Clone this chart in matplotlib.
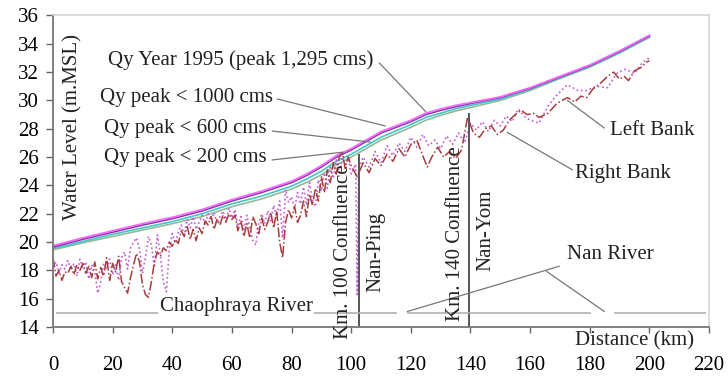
import numpy as np
import matplotlib
matplotlib.use("Agg")
import matplotlib.pyplot as plt

plt.rcParams["font.family"] = ["Liberation Serif", "DejaVu Serif"]

# Water surface profiles (km, m.MSL)
ws_km = [0, 10, 20, 30, 40, 50, 60, 70, 80, 85, 90, 95, 100, 105, 110, 115,
         120, 125, 130, 135, 140, 150, 160, 170, 180, 190, 200]
q1995 = [19.75, 20.3, 20.8, 21.3, 21.75, 22.3, 23.0, 23.6, 24.3, 24.8, 25.4, 26.1,
         26.6, 27.2, 27.8, 28.2, 28.6, 29.1, 29.4, 29.65, 29.85, 30.25, 30.9, 31.7,
         32.5, 33.5, 34.6]
q1000 = [19.65, 20.2, 20.7, 21.2, 21.65, 22.2, 22.9, 23.5, 24.2, 24.7, 25.3, 26.0,
         26.5, 27.1, 27.7, 28.1, 28.5, 29.0, 29.3, 29.55, 29.78, 30.2, 30.85, 31.65,
         32.45, 33.45, 34.55]
q600 = [19.55, 20.05, 20.55, 21.0, 21.45, 22.0, 22.7, 23.25, 23.95, 24.45, 25.0, 25.7,
        26.2, 26.8, 27.4, 27.85, 28.3, 28.8, 29.1, 29.4, 29.65, 30.1, 30.8, 31.6,
        32.4, 33.4, 34.5]
q200 = [19.45, 19.95, 20.4, 20.85, 21.3, 21.8, 22.5, 23.05, 23.75, 24.2, 24.75, 25.45,
        26.0, 26.6, 27.2, 27.65, 28.1, 28.6, 28.95, 29.25, 29.5, 30.0, 30.7, 31.55,
        32.35, 33.35, 34.45]

# Right bank
rb_km = list(range(0, 101)) + [102, 104, 106, 108, 110, 112, 114, 116, 118, 120, 122,
                               124, 125.5, 127, 129, 131, 133, 135, 137, 139, 141, 143,
                               145, 147, 149, 151, 153, 155, 157, 159, 161, 163, 166,
                               169, 172.5, 175, 177, 179, 181, 183.5, 186, 188, 190,
                               191.5, 193, 195, 197, 199, 200]
rb_lvl = [18.9, 17.6, 18.0, 17.3, 17.9, 17.8, 18.3, 17.7, 18.4, 18.0,
          18.5, 17.8, 18.3, 17.5, 18.6, 17.4, 18.2, 17.6, 18.9, 17.3,
          18.5, 17.9, 19.0, 17.2, 16.8, 16.4, 17.5, 18.4, 19.2, 18.6,
          17.0, 16.3, 16.1, 17.2, 18.6, 19.3, 19.0, 19.6, 19.4, 20.0,
          19.7, 20.2, 19.9, 20.8, 20.4, 21.1, 20.2, 20.9, 20.1, 21.0,
          20.6, 21.5, 21.2, 21.8, 20.9, 21.6, 21.2, 21.9, 21.4, 22.0,
          21.6, 21.9, 20.8, 21.5, 20.4, 21.3, 20.3, 21.8, 21.3, 20.6,
          21.7, 20.9, 21.4, 22.1, 21.0, 22.2, 20.0, 18.9, 21.4, 22.3,
          21.7, 22.5, 21.4, 21.9, 22.9, 21.8, 23.4, 22.6, 23.8, 22.9,
          24.6, 23.5, 25.1, 24.2, 25.6, 24.8, 26.0, 26.3, 25.2, 26.0,
          25.4,
          24.6, 25.6, 24.9, 25.9, 25.4, 26.2, 25.7, 26.6, 26.0, 26.9, 27.2,
          26.1, 25.3, 26.0, 26.7, 26.0, 26.4, 25.9, 26.5, 28.8, 27.7, 27.4,
          28.0, 28.2, 27.6, 27.9, 28.6, 29.0, 29.3, 29.0, 29.1, 28.8, 29.1,
          29.8, 30.2, 29.9, 30.3, 30.2, 30.8, 31.2, 31.7, 32.0, 31.5,
          31.7, 31.4, 32.1, 32.3, 32.7, 32.8]

# Left bank
lb_km = list(range(0, 101)) + [101.5, 102, 102.5, 104, 106, 108, 110, 112, 114, 116,
                               118, 120, 122, 124, 126, 128, 130, 132, 134, 136, 138,
                               140, 142, 144, 146, 148, 150, 152, 154, 156, 158, 160,
                               163, 166, 169, 172.5, 176, 179, 182, 186, 189, 192,
                               195, 197, 199, 200]
lb_lvl = [18.2, 18.6, 17.8, 18.4, 18.1, 18.7, 18.0, 18.5, 17.6, 18.8,
          18.2, 18.6, 17.4, 18.4, 17.9, 16.4, 17.2, 18.5, 18.1, 18.8,
          17.7, 18.4, 17.3, 18.9, 19.3, 18.1, 19.6, 20.0, 20.3, 19.5,
          17.8, 18.9, 20.4, 19.8, 18.2, 20.5, 19.1, 17.2, 16.5, 19.4,
          20.6, 19.9, 20.7, 21.2, 20.5, 21.6, 21.0, 21.8, 20.9, 21.4,
          21.9, 21.2, 22.0, 21.5, 22.1, 21.3, 21.8, 22.2, 21.6, 22.4,
          21.7, 22.3, 21.1, 21.8, 20.9, 21.9, 21.0, 20.1, 19.8, 21.4,
          22.0, 21.3, 22.2, 21.5, 22.6, 21.8, 22.9, 20.3, 23.7, 22.8,
          23.2, 22.4, 23.5, 22.7, 23.9, 22.6, 24.2, 23.0, 22.5, 24.4,
          23.6, 24.9, 23.8, 25.3, 24.5, 25.8, 24.9, 26.0, 25.5, 25.9,
          24.8,
          25.5, 16.3, 25.2, 26.0, 25.3, 26.4, 25.6, 26.8, 26.1, 27.0,
          26.4, 27.4, 26.7, 27.6, 26.8, 27.2, 26.6, 27.5, 26.9, 27.7, 27.0,
          28.4, 27.9, 28.5, 27.8, 28.6, 28.2, 28.9, 28.5, 29.4, 28.9, 28.6,
          28.4, 29.6, 30.4, 31.1, 30.7, 30.7, 31.0, 30.9, 31.9, 32.2,
          31.9, 32.5, 32.9, 33.0]

# Confluence markers
conf_km = [102.5, 139.5]
conf_top = [26.2, 29.1]

# Base line (Chaophraya / Nan river) segments
base_level = 15.0
base_start = [1, 118.8, 188]
base_end = [115.5, 180.5, 219]

fig = plt.figure(figsize=(7.28, 3.76), dpi=100)
ax = fig.add_axes([0.0728, 0.130, 0.9012, 0.829])

ax.plot(ws_km, q200, color="#98b898", lw=1.2)
ax.plot(ws_km, q600, color="#40c8c8", lw=1.2)
ax.plot(ws_km, q1000, color="#7a3aa8", lw=1.2)
ax.plot(ws_km, q1995, color="#ff66ff", lw=1.3)

ax.plot(lb_km, lb_lvl, color="#c45ad8", lw=1.2, ls=":")
ax.plot(rb_km, rb_lvl, color="#a83c3c", lw=1.1, ls="-.")

ax.vlines(conf_km, 14, conf_top, color="#555555", lw=1.4)
ax.hlines([base_level] * len(base_start), base_start, base_end, color="#b0b0b0", lw=1.2)

fs = 15
tc = "#222222"
lc = "#777777"

ax.set_xlim(0, 220)
ax.set_ylim(14, 36)
ax.set_xticks(np.arange(0, 221, 20))
ax.set_yticks(np.arange(14, 37, 2))
ax.tick_params(axis="y", direction="out", length=5, width=1, color="#666666",
               pad=5, labelsize=fs)
ax.tick_params(axis="x", direction="out", length=4.5, width=1, color="#666666",
               pad=16.5, labelsize=fs)
for s in ["left", "bottom"]:
    ax.spines[s].set_color("#777777")
    ax.spines[s].set_linewidth(1.3)
for s in ["top", "right"]:
    ax.spines[s].set_color("#d6d6d6")
    ax.spines[s].set_linewidth(1.2)

ax.text(6.7, 28.1, "Water Level (m.MSL)", rotation=90, ha="center", va="center",
        fontsize=fs, color=tc)
ax.text(195, 13.0, "Distance (km)", ha="center", va="center", fontsize=fs,
        color=tc, clip_on=False)

# labels with leader lines: (text, text x, text y, line start, line end)
labels = [
    ("Qy Year 1995 (peak 1,295 cms)", 63.1, 32.85, (109.4, 32.65), (125.0, 29.2)),
    ("Qy peak < 1000 cms", 44.6, 30.24, (75.2, 30.1), (111.4, 28.2)),
    ("Qy peak < 600 cms", 44.3, 28.05, (73.5, 27.84), (106.4, 27.06)),
    ("Qy peak < 200 cms", 44.3, 26.0, (73.5, 25.8), (97.3, 26.35)),
    ("Left Bank", 201.0, 27.9, (184.9, 28.05), (172.5, 30.0)),
    ("Right Bank", 191.0, 24.87, (174.2, 25.1), (152.3, 27.75)),
    ("Nan River", 187.0, 19.15, (169.8, 18.3), (118.8, 15.1)),
]
for txt, tx, ty, p0, p1 in labels:
    ax.text(tx, ty, txt, ha="center", va="center", fontsize=fs, color=tc)
    ax.annotate("", xy=p1, xytext=p0,
                arrowprops=dict(arrowstyle="-", color=lc, lw=0.9, shrinkA=0, shrinkB=0))
ax.annotate("", xy=(184.9, 15.1), xytext=(165.4, 17.95),
            arrowprops=dict(arrowstyle="-", color=lc, lw=0.9, shrinkA=0, shrinkB=0))

ax.text(61.4, 15.45, "Chaophraya River", ha="center", va="center", fontsize=fs,
        color=tc, bbox=dict(facecolor="white", edgecolor="none", pad=1))

ax.text(97.3, 19.3, "Km. 100 Confluence", rotation=90, ha="center", va="center",
        fontsize=fs, color=tc, clip_on=False)
ax.text(108.4, 19.3, "Nan-Ping", rotation=90, ha="center", va="center",
        fontsize=fs, color=tc)
ax.text(135.0, 20.6, "Km. 140 Confluence", rotation=90, ha="center", va="center",
        fontsize=fs, color=tc)
ax.text(145.0, 20.8, "Nan-Yom", rotation=90, ha="center", va="center",
        fontsize=fs, color=tc)

fig.savefig("out.png", dpi=100)
